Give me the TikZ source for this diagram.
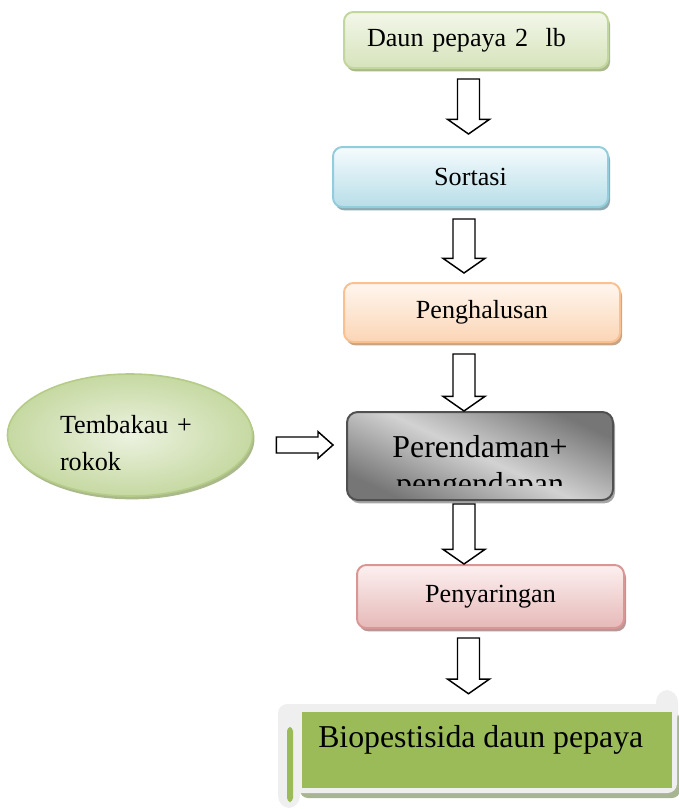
\documentclass[tikz,border=0pt]{standalone}
\usepackage{fontspec}
\setmainfont{Liberation Serif}
\usetikzlibrary{shadows,calc,shapes.geometric}

\definecolor{gTop}{HTML}{F3F7EA}
\definecolor{gBot}{HTML}{D6E3BB}
\definecolor{gBorder}{HTML}{C3D69B}
\definecolor{gShadow}{HTML}{A9B98C}
\definecolor{bTop}{HTML}{F5FBFD}
\definecolor{bBot}{HTML}{B7DEE8}
\definecolor{bBorder}{HTML}{92CDDC}
\definecolor{bShadow}{HTML}{8FA9B0}
\definecolor{oTop}{HTML}{FFF6EF}
\definecolor{oBot}{HTML}{FBD5B5}
\definecolor{oBorder}{HTML}{FAC08F}
\definecolor{oShadow}{HTML}{C8A485}
\definecolor{pTop}{HTML}{FCF0F0}
\definecolor{pBot}{HTML}{E6B9B8}
\definecolor{pBorder}{HTML}{D99694}
\definecolor{pShadow}{HTML}{B89696}
\definecolor{kDark}{HTML}{767676}
\definecolor{kLight}{HTML}{D2D2D2}
\definecolor{kBorder}{HTML}{505050}
\definecolor{eMid}{HTML}{ECF2E0}
\definecolor{eEdge}{HTML}{C6D9A2}
\definecolor{eBorder}{HTML}{B5CC88}
\definecolor{scrollFrame}{HTML}{EFEFEF}
\definecolor{scrollGreen}{HTML}{9BBB59}
\definecolor{scrollShadow}{HTML}{A8B592}

\tikzset{
  myshadow/.style={drop shadow={shadow xshift=1.5pt, shadow yshift=-2.5pt, fill=#1, opacity=1}},
  flowbox/.style n args={4}{rectangle, rounded corners=7pt, line width=1.5pt,
     draw=#3, top color=#1, bottom color=#2, myshadow=#4, inner sep=0pt,
     font=\fontsize{19.6}{25.5}\selectfont},
  blockarrow/.style={draw=black, fill=white, line width=1.1pt, line join=miter},
}

\newcommand\varrow[2]{%
  \draw[blockarrow] let \p1=(#1), \p2=(#2) in
    (\x1-8.25pt,\y1) -- (\x1+8.25pt,\y1) -- (\x1+8.25pt,\y2+11pt) --
    (\x1+15.75pt,\y2+11pt) -- (\x1,\y2) -- (\x1-15.75pt,\y2+11pt) --
    (\x1-8.25pt,\y2+11pt) -- cycle;}
\newcommand\harrow[2]{%
  \draw[blockarrow] let \p1=(#1), \p2=(#2) in
    (\x1,\y1+6pt) -- (\x2-11.25pt,\y1+6pt) -- (\x2-11.25pt,\y1+10pt) --
    (\x2,\y1) -- (\x2-11.25pt,\y1-10pt) -- (\x2-11.25pt,\y1-6pt) --
    (\x1,\y1-6pt) -- cycle;}

\begin{document}
\begin{tikzpicture}[x=0.75pt,y=-0.75pt]
\useasboundingbox (0,0) rectangle (678,810);

% boxes
\node[flowbox={gTop}{gBot}{gBorder}{gShadow}, minimum width=198pt, minimum height=42pt,
      text width=163.5pt, align=left] (d1) at (476,40) {Daun pepaya 2\ \ lb};
\node[flowbox={bTop}{bBot}{bBorder}{bShadow}, minimum width=206.25pt, minimum height=45pt]
      (d2) at (470.5,177) {Sortasi};
\node[flowbox={oTop}{oBot}{oBorder}{oShadow}, minimum width=207pt, minimum height=44.25pt]
      (d3) at (482,312.5) {Penghalusan};

% Perendaman box
\node[rectangle, rounded corners=8pt, line width=1.5pt, draw=kBorder,
      top color=kDark, bottom color=kDark, middle color=kLight, shading angle=-25,
      drop shadow={shadow xshift=1.5pt, shadow yshift=-2.5pt, fill=black, opacity=0.35},
      minimum width=199.5pt, minimum height=66pt] (d4) at (480,456) {};
\begin{scope}
  \clip (350,414) rectangle (610,485);
  \node[align=center, font=\fontsize{23.85}{27.75}\selectfont, anchor=base]
        (d4text) at (480,494) {Perendaman+\\pengendapan};
\end{scope}

\node[flowbox={pTop}{pBot}{pBorder}{pShadow}, minimum width=200.25pt, minimum height=47.25pt]
      (d5) at (490.5,596.5) {Penyaringan};

% ellipse
\node[ellipse, line width=1.2pt, draw=eBorder, inner color=eMid, outer color=eEdge,
      drop shadow={shadow xshift=1.5pt, shadow yshift=-2.5pt, fill=gShadow, opacity=1},
      minimum width=183.75pt, minimum height=91.5pt, text width=105pt, align=left,
      font=\fontsize{19.6}{27.75}\selectfont] (tmb) at (130,435)
      {\rule{0pt}{25.5pt}Tembakau +\\rokok};

% scroll shape
\fill[scrollShadow, rounded corners=6pt] (300,712) rectangle (680,798);
\fill[scrollFrame, rounded corners=7pt] (278,704) rectangle (677,793);
\fill[scrollFrame, rounded corners=9pt] (656,690) rectangle (678,725);
\fill[scrollFrame, rounded corners=9pt] (278,704) rectangle (300,808);
\fill[scrollGreen, rounded corners=3pt] (287,727) rectangle (293,802);
\node[rectangle, fill=scrollGreen, minimum width=277.5pt, minimum height=57pt, inner sep=0pt]
      (bio) at (486.5,750) {};
\node[anchor=base west, inner sep=0pt, font=\fontsize{23.85}{27.75}\selectfont]
      (biotext) at (318,747) {Biopestisida daun pepaya};

% arrows
\varrow{$(d1.south)+(-7.5,10)$}{$(d2.north)+(0,-12)$}
\varrow{$(d2.south)+(-6.5,11)$}{$(d3.north)+(0,-9)$}
\varrow{$(d3.south)+(-18,11)$}{$(d4.north)+(0,0)$}
\varrow{$(d4.south)+(-16,3)$}{$(d5.north)+(0,0)$}
\varrow{$(d5.south)+(-22,9)$}{$(bio.north)+(0,-18)$}
\harrow{$(tmb.east)+(23,10)$}{$(d4.west)+(-13,0)$}
\end{tikzpicture}
\end{document}
